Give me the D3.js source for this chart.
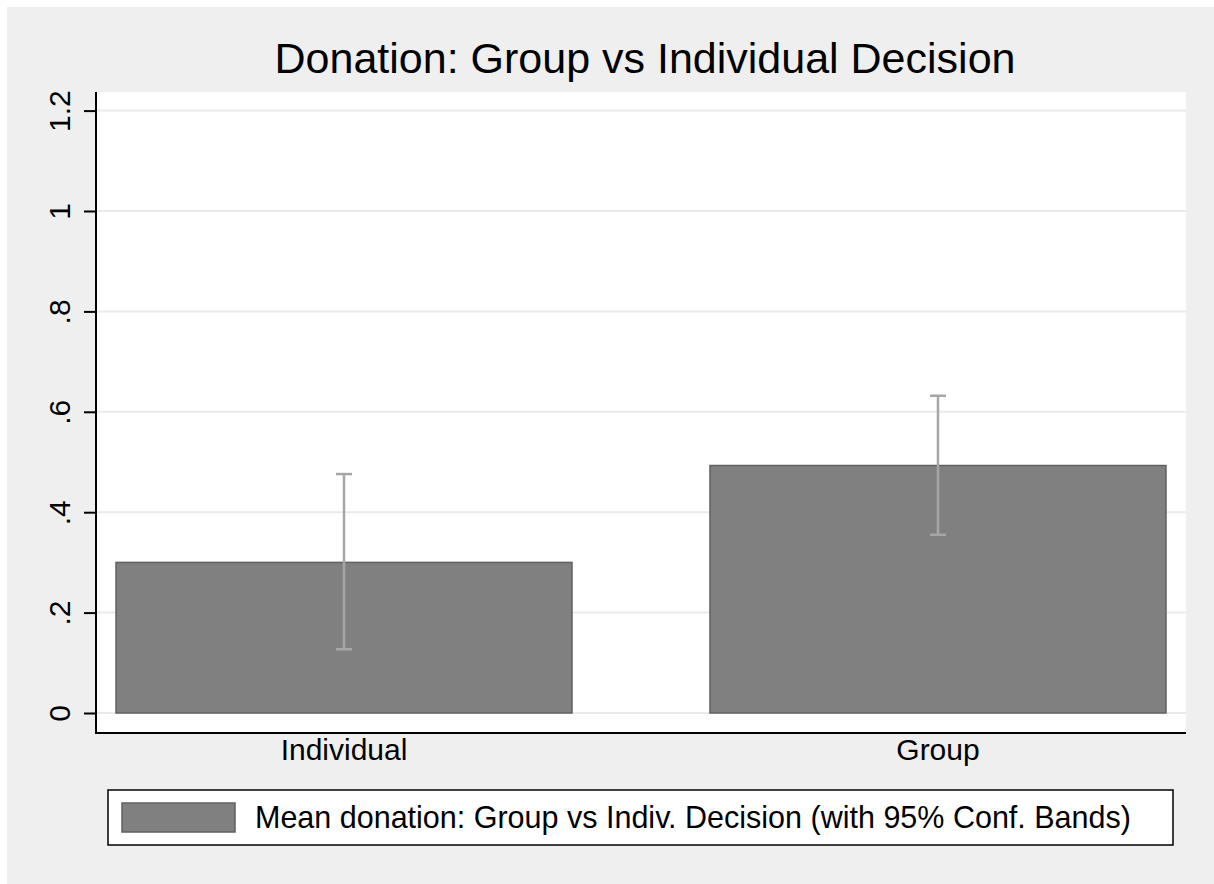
<!DOCTYPE html>
<html>
<head>
<meta charset="utf-8">
<script src="https://cdn.jsdelivr.net/npm/d3@7"></script>
<style>
  html, body { margin: 0; padding: 0; background: #ffffff; }
  svg { display: block; }
  text { font-family: Arial, "Liberation Sans", Helvetica, sans-serif; fill: #000; }
</style>
</head>
<body>
<svg id="chart" width="1214" height="884"></svg>
<script>
// Mean donation by decision type, with 95% confidence bands
const categories = ["Individual", "Group"];
const means = [0.300, 0.493];
const ciLower = [0.127, 0.355];
const ciUpper = [0.476, 0.632];
const yTicks = [0, 0.2, 0.4, 0.6, 0.8, 1.0, 1.2];
const yTickLabels = ["0", ".2", ".4", ".6", ".8", "1", "1.2"];
const titleText = "Donation: Group vs Individual Decision";
const legendText = "Mean donation: Group vs Indiv. Decision (with 95% Conf. Bands)";

const W = 1214, H = 884;
const plot = { left: 96, right: 1186, top: 92, bottom: 733 };

const svg = d3.select("#chart");

// Outer graph region
svg.append("rect").attr("x", 7).attr("y", 7).attr("width", W - 7).attr("height", H - 7)
  .attr("fill", "#efefef");

// Plot region
svg.append("rect")
  .attr("x", plot.left).attr("y", plot.top)
  .attr("width", plot.right - plot.left).attr("height", plot.bottom - plot.top)
  .attr("fill", "#ffffff");

const y = d3.scaleLinear().domain([0, 1.2]).range([713, 110.6]);
const x = d3.scaleBand().domain(categories)
  .range([plot.left, plot.right])
  .paddingInner(0.2323).paddingOuter(0.0337);

// Horizontal grid lines
svg.append("g").selectAll("line").data(yTicks).join("line")
  .attr("x1", plot.left).attr("x2", plot.right)
  .attr("y1", d => y(d)).attr("y2", d => y(d))
  .attr("stroke", "#eaeaea").attr("stroke-width", 2);

// Bars
svg.append("g").selectAll("rect").data(categories).join("rect")
  .attr("x", d => x(d)).attr("width", x.bandwidth())
  .attr("y", (d, i) => y(means[i]))
  .attr("height", (d, i) => y(0) - y(means[i]))
  .attr("fill", "#808080").attr("stroke", "#606060").attr("stroke-width", 1.5);

// Confidence bands
const eb = svg.append("g").attr("stroke", "#a6a6a6").attr("stroke-width", 2.5);
categories.forEach((c, i) => {
  const cx = x(c) + x.bandwidth() / 2;
  eb.append("line").attr("x1", cx).attr("x2", cx)
    .attr("y1", y(ciLower[i])).attr("y2", y(ciUpper[i]));
  [ciLower[i], ciUpper[i]].forEach(v => {
    eb.append("line").attr("x1", cx - 8).attr("x2", cx + 8)
      .attr("y1", y(v)).attr("y2", y(v));
  });
});

// Y axis
const yAxis = d3.axisLeft(y).tickValues(yTicks)
  .tickFormat((d, i) => yTickLabels[i]).tickSize(12).tickPadding(0);
const gy = svg.append("g").attr("transform", `translate(${plot.left},0)`).call(yAxis);
gy.select(".domain").remove();
gy.selectAll(".tick line").attr("stroke", "#000").attr("stroke-width", 2);
gy.selectAll(".tick text")
  .attr("x", null).attr("dy", null)
  .attr("text-anchor", "middle")
  .attr("transform", "translate(-26,0) rotate(-90)")
  .style("font-size", "30px")
  .style("font-family", "Arial, 'Liberation Sans', sans-serif");

svg.append("line").attr("x1", plot.left).attr("x2", plot.left)
  .attr("y1", plot.top).attr("y2", plot.bottom + 1)
  .attr("stroke", "#000").attr("stroke-width", 2);

// X axis
const xAxis = d3.axisBottom(x).tickSize(0).tickPadding(0);
const gx = svg.append("g").attr("transform", `translate(0,${plot.bottom})`).call(xAxis);
gx.select(".domain").remove();
gx.selectAll(".tick text")
  .attr("y", 27).attr("dy", null)
  .style("font-size", "30px")
  .style("font-family", "Arial, 'Liberation Sans', sans-serif");

svg.append("line").attr("x1", plot.left - 1).attr("x2", plot.right)
  .attr("y1", plot.bottom).attr("y2", plot.bottom)
  .attr("stroke", "#000").attr("stroke-width", 2);

// Title
svg.append("text").attr("x", 645).attr("y", 73)
  .attr("text-anchor", "middle").style("font-size", "43px").text(titleText);

// Legend
const lg = svg.append("g");
lg.append("rect").attr("x", 108).attr("y", 790).attr("width", 1065).attr("height", 55)
  .attr("fill", "#ffffff").attr("stroke", "#000").attr("stroke-width", 1.5);
lg.append("rect").attr("x", 122).attr("y", 803).attr("width", 113).attr("height", 29)
  .attr("fill", "#808080").attr("stroke", "#606060").attr("stroke-width", 1.5);
lg.append("text").attr("x", 255).attr("y", 828)
  .style("font-size", "30.5px").text(legendText);
</script>
</body>
</html>
